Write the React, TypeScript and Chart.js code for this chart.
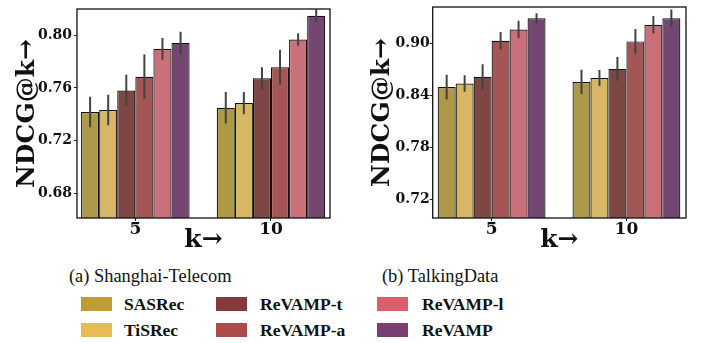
import React, { useEffect, useRef } from 'react';
import { Chart, registerables } from 'chart.js';

Chart.register(...registerables);

const categories = ['5', '10'];
const seriesNames = ['SASRec', 'TiSRec', 'ReVAMP-t', 'ReVAMP-a', 'ReVAMP-l', 'ReVAMP'];
const barColors = ['#AE984A', '#D7B766', '#7D4743', '#A45655', '#C9707A', '#744672'];
const legendColors = ['#C09C36', '#E9BB54', '#843A3A', '#AE4A4A', '#D65F69', '#7A3F72'];

// rows = series (same order as seriesNames), columns = categories (k=5, k=10)
const shanghaiMeans = [
  [0.7416, 0.7449],
  [0.7432, 0.7484],
  [0.758, 0.7673],
  [0.7685, 0.7756],
  [0.7897, 0.7968],
  [0.7942, 0.8149],
];
const shanghaiErrors = [
  [0.0116, 0.012],
  [0.0116, 0.0084],
  [0.012, 0.0084],
  [0.017, 0.0133],
  [0.0083, 0.0047],
  [0.0085, 0.0048],
];
const talkingMeans = [
  [0.85, 0.8558],
  [0.8542, 0.8604],
  [0.8618, 0.871],
  [0.9034, 0.9027],
  [0.9165, 0.9218],
  [0.9294, 0.9294],
];
const talkingErrors = [
  [0.0143, 0.0141],
  [0.0095, 0.0092],
  [0.0145, 0.0137],
  [0.0101, 0.0143],
  [0.0101, 0.0101],
  [0.0059, 0.0101],
];
const shanghaiTicks = [0.68, 0.72, 0.76, 0.8];
const talkingTicks = [0.72, 0.78, 0.84, 0.9];

const errorBarPlugin = {
  id: 'errorBars',
  afterDatasetsDraw(chart: any) {
    const { ctx, chartArea, scales } = chart;
    const y = scales.y;
    ctx.save();
    ctx.beginPath();
    ctx.rect(chartArea.left, chartArea.top, chartArea.right - chartArea.left, chartArea.bottom - chartArea.top);
    ctx.clip();
    ctx.strokeStyle = '#424242';
    ctx.lineWidth = 2;
    chart.data.datasets.forEach((ds: any, di: number) => {
      const meta = chart.getDatasetMeta(di);
      meta.data.forEach((el: any, i: number) => {
        const p = ds.data[i];
        const e = ds.errors[i];
        ctx.beginPath();
        ctx.moveTo(el.x, y.getPixelForValue(p.y + e));
        ctx.lineTo(el.x, y.getPixelForValue(p.y - e));
        ctx.stroke();
      });
    });
    ctx.restore();
  },
};

const framePlugin = {
  id: 'frame',
  afterDraw(chart: any) {
    const { ctx, chartArea } = chart;
    ctx.save();
    ctx.strokeStyle = '#111';
    ctx.lineWidth = 1.3;
    ctx.strokeRect(chartArea.left, chartArea.top, chartArea.right - chartArea.left, chartArea.bottom - chartArea.top);
    ctx.restore();
  },
};

type PanelProps = {
  means: number[][];
  errors: number[][];
  yTicks: number[];
  yMin: number;
  yMax: number;
  xMin: number;
  xMax: number;
  padLeft: number;
  padRight: number;
  yAxisWidth: number;
  tickPad: number;
  width: number;
  height: number;
  left: number;
};

function Panel(props: PanelProps) {
  const ref = useRef<HTMLCanvasElement | null>(null);
  useEffect(() => {
    if (!ref.current) return;
    const tickFont = { family: 'DejaVu Serif', weight: 'bold' as const, size: 14, lineHeight: 1 };
    const titleFont = { family: 'DejaVu Serif', weight: 'bold' as const, size: 25, lineHeight: 1.2 };
    const chart = new Chart(ref.current, {
      type: 'bar',
      data: {
        datasets: seriesNames.map((name, s) => ({
          label: name,
          data: props.means[s].map((v, i) => ({ x: i, y: v })),
          errors: props.errors[s],
          backgroundColor: barColors[s],
          borderColor: '#111',
          borderWidth: 1.2,
          barPercentage: 1,
          categoryPercentage: 0.8,
        })) as any,
      },
      options: {
        animation: false,
        responsive: false,
        layout: { padding: { left: props.padLeft, right: props.padRight, top: 6, bottom: 0 } },
        plugins: { legend: { display: false }, tooltip: { enabled: false } },
        scales: {
          x: {
            type: 'linear',
            offset: false,
            min: props.xMin,
            max: props.xMax,
            grid: { drawOnChartArea: false, drawTicks: true, tickLength: 3, color: '#222', offset: false },
            border: { display: false },
            afterBuildTicks: (scale: any) => {
              scale.ticks = categories.map((_, i) => ({ value: i }));
            },
            afterFit: (scale: any) => {
              scale.height = 35;
            },
            ticks: {
              font: { ...tickFont, size: 17 },
              color: '#111',
              padding: 0,
              maxRotation: 0,
              autoSkip: false,
              callback: (v: any) => categories[Math.round(Number(v))],
            },
            title: { display: true, text: 'k→', font: titleFont, color: '#111', padding: { top: 0, bottom: -2 } },
          },
          y: {
            type: 'linear',
            min: props.yMin,
            max: props.yMax,
            grid: { drawOnChartArea: false, drawTicks: true, tickLength: 3, color: '#222' },
            border: { display: false },
            afterBuildTicks: (scale: any) => {
              scale.ticks = props.yTicks.map((v) => ({ value: v }));
            },
            afterFit: (scale: any) => {
              scale.width = props.yAxisWidth;
            },
            ticks: {
              font: tickFont,
              color: '#111',
              padding: props.tickPad,
              callback: (v: any) => Number(v).toFixed(2),
            },
            title: { display: true, text: 'NDCG@k→', font: titleFont, color: '#111', padding: 0 },
          },
        },
      } as any,
      plugins: [errorBarPlugin, framePlugin],
    });
    return () => chart.destroy();
  }, []);
  return (
    <canvas
      ref={ref}
      width={props.width}
      height={props.height}
      style={{ position: 'absolute', left: props.left, top: 0, width: props.width, height: props.height }}
    />
  );
}

const captionStyle: React.CSSProperties = {
  position: 'absolute',
  fontFamily: '"Liberation Serif", serif',
  fontSize: 18.4,
  color: '#111',
  whiteSpace: 'nowrap',
  lineHeight: '20px',
};

const legendCols = [81, 216, 377];
const legendTextCols = [124, 260, 422];
const legendRows = [297, 323];

export default function App() {
  return (
    <div style={{ position: 'absolute', left: 0, top: 0, width: 704, height: 343, background: '#fff', overflow: 'hidden' }}>
      <Panel
        means={shanghaiMeans}
        errors={shanghaiErrors}
        yTicks={shanghaiTicks}
        yMin={0.661}
        yMax={0.82}
        xMin={-0.43}
        xMax={1.435}
        padLeft={12}
        padRight={10}
        yAxisWidth={65}
        tickPad={2}
        width={340}
        height={253}
        left={0}
      />
      <Panel
        means={talkingMeans}
        errors={talkingErrors}
        yTicks={talkingTicks}
        yMin={0.699}
        yMax={0.9424}
        xMin={-0.437}
        xMax={1.442}
        padLeft={23}
        padRight={18}
        yAxisWidth={65.7}
        tickPad={0}
        width={360}
        height={253}
        left={344}
      />
      <div style={{ ...captionStyle, left: 69, top: 266 }}>(a) Shanghai-Telecom</div>
      <div style={{ ...captionStyle, left: 382, top: 266 }}>(b) TalkingData</div>
      {seriesNames.map((name, s) => {
        const col = Math.floor(s / 2);
        const row = s % 2;
        return (
          <React.Fragment key={name}>
            <div
              style={{
                position: 'absolute',
                left: legendCols[col],
                top: legendRows[row],
                width: 31,
                height: 14,
                background: legendColors[s],
              }}
            />
            <div
              style={{
                position: 'absolute',
                left: legendTextCols[col],
                top: legendRows[row] - 3,
                fontFamily: '"Liberation Serif", serif',
                fontWeight: 'bold',
                fontSize: 17.5,
                lineHeight: '20px',
                color: '#111',
                whiteSpace: 'nowrap',
              }}
            >
              {name}
            </div>
          </React.Fragment>
        );
      })}
    </div>
  );
}
